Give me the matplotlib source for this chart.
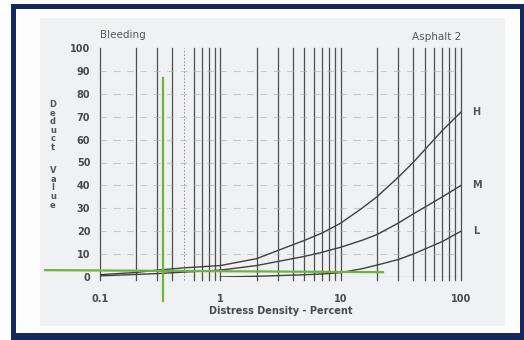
import matplotlib
matplotlib.use("Agg")
import matplotlib.pyplot as plt
from matplotlib.patches import Rectangle

# deduct value curves for bleeding (asphalt)
density_h = [0.1, 0.2, 0.3, 0.5, 1, 2, 3.16, 5, 7, 10, 15, 20, 30, 40, 70, 100]
deduct_h = [1, 2, 3, 4, 5, 8, 12, 16, 19.2, 23.5, 30, 35, 43.5, 50, 64, 72]

density_m = [0.1, 0.3, 1, 2, 3.16, 5, 7, 10, 15, 20, 30, 40, 70, 100]
deduct_m = [0.5, 1.5, 3, 5, 7, 9, 10.8, 13, 16, 18.5, 23.5, 27.5, 35, 40]

density_l = [1, 2, 3, 5, 7, 10, 15, 20, 30, 40, 70, 100]
deduct_l = [0, 0.3, 0.6, 1, 1.3, 1.9, 3.6, 5.2, 7.6, 10, 15.5, 20]

severity_labels = ["H", "M", "L"]

# green reading lines drawn over the chart
reading_x = 0.335
reading_x_span = [-10.5, 87]
reading_h_x = [0.035, 22.5]
reading_h_y = [3.0, 2.1]

x_ticks = [0.1, 1, 10, 100]
x_tick_labels = ["0.1", "1", "10", "100"]
y_ticks = list(range(0, 101, 10))

W, H = 524, 340
fig = plt.figure(figsize=(W / 100, H / 100), dpi=100)
fig.patch.set_facecolor("#fdfdfe")

def px(x0, y0, w, h):
    # pixel box (top-left origin) -> figure fraction
    return (x0 / W, 1 - (y0 + h) / H, w / W, h / H)

# scanned sheet and dark frame
x0, y0, w, h = px(40, 18, 465, 308)
fig.patches.append(Rectangle((x0, y0), w, h, transform=fig.transFigure,
                             facecolor="#eff1f3", edgecolor="none", zorder=-2))
navy = "#142a5e"
for box in [(11, 4, 513, 5), (11, 4, 5, 336), (11, 333, 513, 7), (520, 4, 4, 336)]:
    x0, y0, w, h = px(*box)
    fig.patches.append(Rectangle((x0, y0), w, h, transform=fig.transFigure,
                                 facecolor=navy, edgecolor="none", zorder=5))

ax = fig.add_axes([100 / W, 63 / H, 361 / W, 229 / H])
ax.set_zorder(1)
ax.set_facecolor("none")
ax.set_xscale("log")
ax.set_xlim(0.1, 100)
ax.set_ylim(0, 100)
for s in ax.spines.values():
    s.set_visible(False)

# vertical log grid
for dec in [0.1, 1, 10]:
    for k in range(1, 10):
        xv = dec * k
        if abs(xv - 0.5) < 1e-9:
            ax.plot([xv, xv], [-1.5, 100], color="#8a8a8a", lw=0.7,
                    ls=(0, (1.5, 2)), clip_on=False)
        else:
            ax.plot([xv, xv], [-1.5, 100], color="#333333", lw=0.9,
                    alpha=0.85, clip_on=False)
ax.plot([100, 100], [-1.5, 100], color="#333333", lw=0.9, alpha=0.85, clip_on=False)

# dashed horizontal grid
for yv in y_ticks[1:-1]:
    ax.plot([0.1, 100], [yv, yv], color="#a9aeb3", lw=0.8, ls=(0, (6, 6)), alpha=0.6)
ax.plot([0.1, 100], [0, 0], color="#555555", lw=0.8, alpha=0.7)

# deduct curves
for xs, ys in [(density_h, deduct_h), (density_m, deduct_m), (density_l, deduct_l)]:
    ax.plot(xs, ys, color="#404040", lw=1.0)
for lab, yv in zip(severity_labels, [deduct_h[-1], deduct_m[-1], deduct_l[-1]]):
    ax.text(135, yv, lab, fontsize=7, fontweight="bold", color="#555555",
            ha="center", va="center", clip_on=False)

# green reading lines
green = "#6db33f"
ax.plot([reading_x, reading_x], reading_x_span, color=green, lw=1.6, clip_on=False, zorder=6)
ax.plot(reading_h_x, reading_h_y, color=green, lw=1.6, clip_on=False, zorder=6)

ax.set_xticks(x_ticks)
ax.set_xticklabels(x_tick_labels)
ax.set_xticks([], minor=True)
ax.set_yticks(y_ticks)
ax.tick_params(length=0, labelsize=7, labelcolor="#4a4a4a")
for t in ax.get_xticklabels() + ax.get_yticklabels():
    t.set_fontweight("bold")
ax.tick_params(axis="y", pad=7)
ax.tick_params(axis="x", pad=12)

ax.text(0.5, -0.125, "Distress Density - Percent", transform=ax.transAxes,
        fontsize=7, fontweight="bold", color="#4a4a4a", ha="center", va="top")
ax.text(0.0, 1.035, "Bleeding", transform=ax.transAxes, fontsize=7.5,
        color="#555555", ha="left", va="bottom")
ax.text(1.0, 1.025, "Asphalt 2", transform=ax.transAxes, fontsize=7.5,
        color="#555555", ha="right", va="bottom")

# stacked y label
fig.text(53 / W, 1 - 126 / H, "\n".join("Deduct"), fontsize=6, fontweight="bold",
         color="#555555", ha="center", va="center", linespacing=0.95)
fig.text(53 / W, 1 - 188 / H, "\n".join("Value"), fontsize=6, fontweight="bold",
         color="#555555", ha="center", va="center", linespacing=0.95)

fig.savefig("out.png", dpi=100)
